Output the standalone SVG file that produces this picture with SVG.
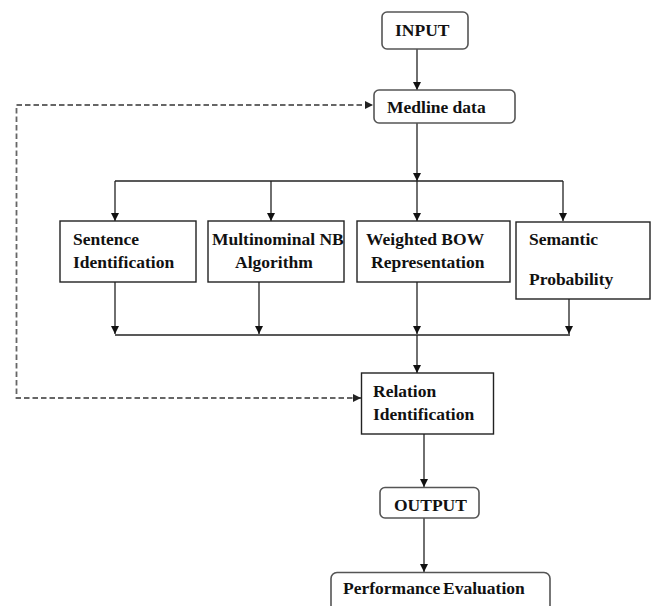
<svg xmlns="http://www.w3.org/2000/svg" width="652" height="606" viewBox="0 0 652 606">
<style>
.t{font-family:"Liberation Serif","Times New Roman",serif;font-weight:bold;font-size:17.5px;fill:#111}
.rb{fill:#fff;stroke:#555;stroke-width:1.6}
.sb{fill:#fff;stroke:#222;stroke-width:1.4}
.ln{fill:none;stroke:#222;stroke-width:1.3}
.ds{fill:none;stroke:#666;stroke-width:1.8;stroke-dasharray:5.5 3}
</style>
<defs>
<marker id="ah" viewBox="0 0 10 10" refX="10" refY="5" markerWidth="8" markerHeight="8" markerUnits="userSpaceOnUse" orient="auto">
<path d="M0,0 L10,5 L0,10 Z" fill="#111"/>
</marker>
<marker id="ahg" viewBox="0 0 10 10" refX="10" refY="5" markerWidth="8" markerHeight="8" markerUnits="userSpaceOnUse" orient="auto">
<path d="M0,0 L10,5 L0,10 Z" fill="#222"/>
</marker>
</defs>
<g id="connectors">
<line class="ln" x1="417" y1="49" x2="417" y2="90" marker-end="url(#ah)"/>
<line class="ln" x1="417" y1="123" x2="417" y2="181" marker-end="url(#ah)"/>
<line class="ln" x1="115" y1="181" x2="563" y2="181"/>
<line class="ln" x1="115" y1="181" x2="115" y2="221" marker-end="url(#ah)"/>
<line class="ln" x1="271" y1="181" x2="271" y2="221" marker-end="url(#ah)"/>
<line class="ln" x1="417" y1="181" x2="417" y2="221" marker-end="url(#ah)"/>
<line class="ln" x1="563" y1="181" x2="563" y2="221" marker-end="url(#ah)"/>
<line class="ln" x1="115" y1="282" x2="115" y2="334" marker-end="url(#ah)"/>
<line class="ln" x1="259" y1="282" x2="259" y2="334" marker-end="url(#ah)"/>
<line class="ln" x1="417" y1="282" x2="417" y2="334" marker-end="url(#ah)"/>
<line class="ln" x1="569" y1="299" x2="569" y2="334" marker-end="url(#ah)"/>
<line class="ln" x1="115" y1="335" x2="570" y2="335"/>
<line class="ln" x1="417" y1="335" x2="417" y2="373" marker-end="url(#ah)"/>
<line class="ln" x1="424" y1="434" x2="424" y2="487" marker-end="url(#ah)"/>
<line class="ln" x1="424" y1="518" x2="424" y2="572" marker-end="url(#ah)"/>
<polyline class="ds" points="361,398 16.5,398 16.5,105 366,105"/>
<line class="ds" x1="366" y1="105" x2="373" y2="105" stroke-dasharray="none" marker-end="url(#ahg)"/>
<line class="ds" x1="354" y1="398" x2="361" y2="398" stroke-dasharray="none" marker-end="url(#ahg)"/>
</g>
<g id="input">
<rect class="rb" x="382" y="12" width="86" height="37" rx="5"/>
<text class="t" x="395" y="36">INPUT</text>
</g>
<g id="medline">
<rect class="rb" x="374" y="90" width="141" height="33" rx="5"/>
<text class="t" x="387" y="113">Medline data</text>
</g>
<g id="sentence">
<rect class="sb" x="60" y="221" width="136" height="61"/>
<text class="t" x="73" y="245">Sentence</text>
<text class="t" x="73" y="268">Identification</text>
</g>
<g id="multinominal">
<rect class="sb" x="208" y="221" width="136" height="61"/>
<text class="t" x="212" y="245">Multinominal NB</text>
<text class="t" x="235" y="268">Algorithm</text>
</g>
<g id="weighted">
<rect class="sb" x="357" y="221" width="153" height="61"/>
<text class="t" x="366" y="245">Weighted BOW</text>
<text class="t" x="371" y="268">Representation</text>
</g>
<g id="semantic">
<rect class="sb" x="516" y="222" width="134" height="77"/>
<text class="t" x="529" y="245">Semantic</text>
<text class="t" x="529" y="285">Probability</text>
</g>
<g id="relation">
<rect class="sb" x="361.5" y="373" width="132" height="61"/>
<text class="t" x="373" y="397">Relation</text>
<text class="t" x="373" y="420">Identification</text>
</g>
<g id="output">
<rect class="rb" x="380" y="487.5" width="99" height="30.5" rx="5"/>
<text class="t" x="394" y="511">OUTPUT</text>
</g>
<g id="performance">
<rect class="rb" x="331" y="572.5" width="219" height="45" rx="6"/>
<text class="t" x="343" y="594" word-spacing="-1.5">Performance Evaluation</text>
</g>
</svg>
